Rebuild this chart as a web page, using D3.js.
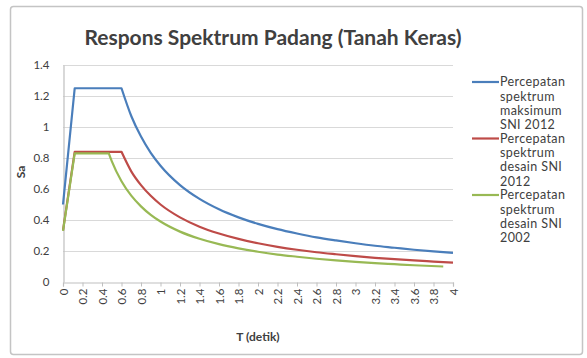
<!DOCTYPE html>
<html>
<head>
<meta charset="utf-8">
<script src="https://cdn.jsdelivr.net/npm/d3@7/dist/d3.min.js"></script>
<style>
  html, body { margin: 0; padding: 0; background: #ffffff; }
  svg { display: block; }
  text { font-family: Lato, "Open Sans", sans-serif; fill: #404040; }
</style>
</head>
<body>
<svg id="chart" width="587" height="358"></svg>
<script>
// Period T (detik) and spectral acceleration Sa for each spectrum
const tMaks2012 = [0, 0.12, 0.6, 0.7, 0.8, 0.9, 1.0, 1.2, 1.4, 1.6, 1.8, 2.0, 2.2, 2.4, 2.6, 2.8, 3.0, 3.2, 3.4, 3.6, 3.8, 4.0];
const saMaks2012 = [0.5, 1.25, 1.25, 1.071, 0.938, 0.833, 0.75, 0.625, 0.536, 0.469, 0.417, 0.375, 0.341, 0.313, 0.288, 0.268, 0.25, 0.234, 0.221, 0.208, 0.197, 0.188];

const tDesain2012 = [0, 0.12, 0.6, 0.7, 0.8, 0.9, 1.0, 1.2, 1.4, 1.6, 1.8, 2.0, 2.2, 2.4, 2.6, 2.8, 3.0, 3.2, 3.4, 3.6, 3.8, 4.0];
const saDesain2012 = [0.333, 0.84, 0.84, 0.714, 0.625, 0.556, 0.5, 0.417, 0.357, 0.313, 0.278, 0.25, 0.227, 0.208, 0.192, 0.179, 0.167, 0.156, 0.147, 0.139, 0.132, 0.125];

const tDesain2002 = [0, 0.12, 0.47, 0.5, 0.6, 0.7, 0.8, 0.9, 1.0, 1.2, 1.4, 1.6, 1.8, 2.0, 2.2, 2.4, 2.6, 2.8, 3.0, 3.2, 3.4, 3.6, 3.9];
const saDesain2002 = [0.33, 0.83, 0.83, 0.78, 0.65, 0.557, 0.488, 0.433, 0.39, 0.325, 0.279, 0.244, 0.217, 0.195, 0.177, 0.163, 0.15, 0.139, 0.13, 0.122, 0.115, 0.108, 0.1];

const seriesNames = [
  ["Percepatan", "spektrum", "maksimum", "SNI 2012"],
  ["Percepatan", "spektrum", "desain SNI", "2012"],
  ["Percepatan", "spektrum", "desain SNI", "2002"]
];
const seriesColors = ["#4a7ebb", "#be4b48", "#98b954"];

const yTicks = [0, 0.2, 0.4, 0.6, 0.8, 1, 1.2, 1.4];
const xTicks = d3.range(0, 21).map(i => +(i * 0.2).toFixed(1));

const titleText = "Respons Spektrum Padang (Tanah Keras)";
const xTitle = "T (detik)";
const yTitle = "Sa";

const series = [
  { t: tMaks2012, sa: saMaks2012 },
  { t: tDesain2012, sa: saDesain2012 },
  { t: tDesain2002, sa: saDesain2002 }
];

const svg = d3.select("#chart");

// chart frame
svg.append("rect")
  .attr("x", 10.5).attr("y", 6.5)
  .attr("width", 572).attr("height", 348)
  .attr("rx", 3)
  .attr("fill", "#ffffff")
  .attr("stroke", "#c4c4c4")
  .attr("stroke-width", 1.5);

const plot = { left: 63, right: 453, top: 65, bottom: 282 };

const x = d3.scaleLinear().domain([0, 4]).range([plot.left, plot.right]);
const y = d3.scaleLinear().domain([0, 1.4]).range([plot.bottom, plot.top]);

// horizontal gridlines
svg.append("g")
  .selectAll("line")
  .data(yTicks.filter(d => d > 0))
  .join("line")
  .attr("x1", plot.left).attr("x2", plot.right)
  .attr("y1", d => Math.round(y(d)) + 0.5).attr("y2", d => Math.round(y(d)) + 0.5)
  .attr("stroke", "#d9d9d9")
  .attr("stroke-width", 1.2);

// y axis
const yAxis = svg.append("g")
  .attr("transform", `translate(${plot.left + 0.5},0)`)
  .call(d3.axisLeft(y).tickValues(yTicks).tickSize(0).tickPadding(14).tickFormat(d3.format("~g")));
yAxis.select(".domain").attr("stroke", "#bfbfbf").attr("stroke-width", 1.2);
yAxis.selectAll("text").style("font-size", "11.5px").attr("fill", "#404040");

// x axis
const xAxis = svg.append("g")
  .attr("transform", `translate(0,${plot.bottom + 0.5})`)
  .call(d3.axisBottom(x).tickValues(xTicks).tickSize(4).tickFormat(d3.format("~g")));
xAxis.select(".domain").attr("stroke", "#bfbfbf").attr("stroke-width", 1.2);
xAxis.selectAll(".tick line").attr("stroke", "#bfbfbf");
xAxis.selectAll("text")
  .style("font-size", "11.5px")
  .attr("fill", "#404040")
  .attr("text-anchor", "end")
  .attr("dy", "0.35em")
  .attr("transform", "translate(0,6) rotate(-90)")
  .attr("x", 0).attr("y", 0);

// spectrum lines: straight ramp and plateau, smooth descending branch
const straight = d3.line().x(d => x(d[0])).y(d => y(d[1]));
const smooth = d3.line().x(d => x(d[0])).y(d => y(d[1])).curve(d3.curveMonotoneX);

function spectrumPath(s) {
  const pts = s.t.map((t, i) => [t, s.sa[i]]);
  const head = straight(pts.slice(0, 3));
  const tail = smooth(pts.slice(2)).replace(/^M[^A-Za-z]*/, "");
  return head + tail;
}

svg.append("g")
  .selectAll("path")
  .data(series)
  .join("path")
  .attr("d", spectrumPath)
  .attr("fill", "none")
  .attr("stroke", (s, i) => seriesColors[i])
  .attr("stroke-width", 2.2)
  .attr("stroke-linejoin", "round");

// title
svg.append("text")
  .attr("x", 273).attr("y", 45)
  .attr("text-anchor", "middle")
  .style("font-size", "21px")
  .style("font-weight", "bold")
  .attr("fill", "#262626")
  .text(titleText);

// axis titles
svg.append("text")
  .attr("x", 258).attr("y", 341)
  .attr("text-anchor", "middle")
  .style("font-size", "12px")
  .style("font-weight", "bold")
  .attr("fill", "#262626")
  .text(xTitle);

svg.append("text")
  .attr("transform", "translate(25,172) rotate(-90)")
  .attr("text-anchor", "middle")
  .style("font-size", "12px")
  .style("font-weight", "bold")
  .attr("fill", "#262626")
  .text(yTitle);

// legend
const legend = svg.append("g");
const entryTop = [82, 138.5, 195];
seriesNames.forEach((lines, i) => {
  const g = legend.append("g").attr("transform", `translate(0,${entryTop[i]})`);
  g.append("line")
    .attr("x1", 472).attr("x2", 499)
    .attr("y1", 0).attr("y2", 0)
    .attr("stroke", seriesColors[i])
    .attr("stroke-width", 2.2);
  g.selectAll("text")
    .data(lines)
    .join("text")
    .attr("x", 500)
    .attr("y", (d, j) => j * 14.3)
    .attr("dy", "0.35em")
    .style("font-size", "12.5px")
    .style("letter-spacing", "0.4px")
    .attr("fill", "#404040")
    .text(d => d);
});
</script>
</body>
</html>
